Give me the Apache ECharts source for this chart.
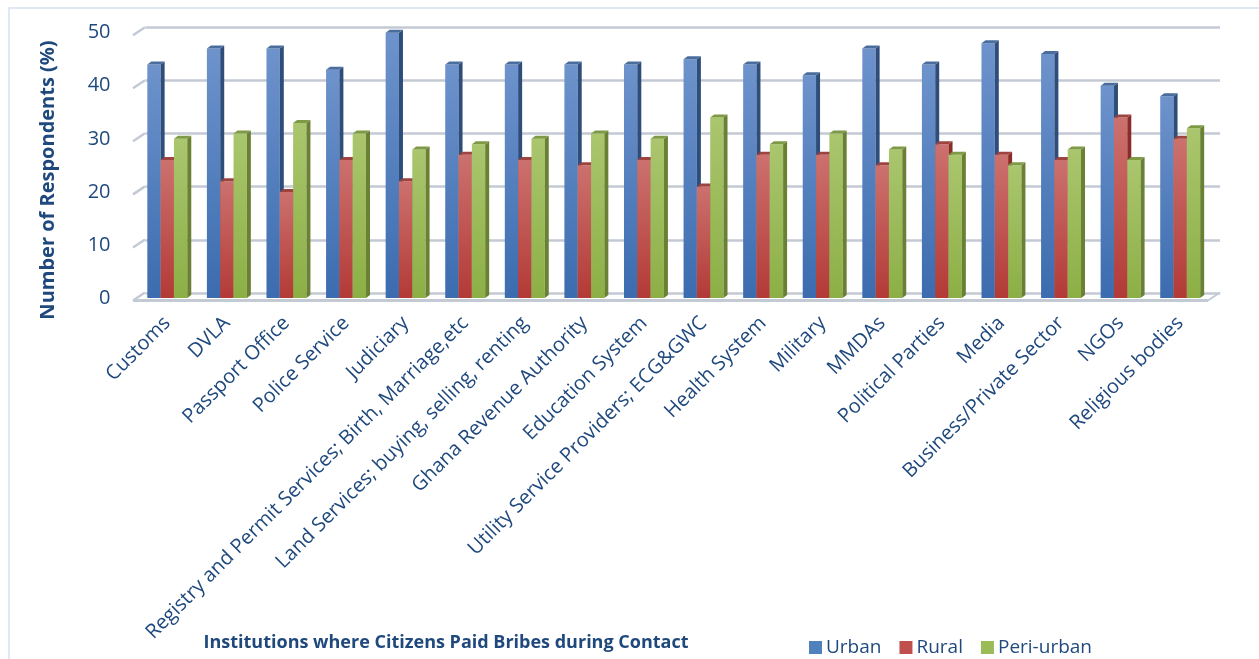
<!DOCTYPE html>
<html>
<head>
<meta charset="utf-8">
<script src="https://cdn.jsdelivr.net/npm/echarts@6/dist/echarts.min.js"></script>
<style>
  html, body { margin: 0; padding: 0; background: #fff; }
  #chart { width: 1259px; height: 659px; }
</style>
</head>
<body>
<div id="chart"></div>
<script>
// Institutions and the share of respondents (%) who paid bribes, by locality
const categories = [
  'Customs', 'DVLA', 'Passport Office', 'Police Service', 'Judiciary',
  'Registry and Permit Services; Birth, Marriage,etc',
  'Land Services; buying, selling, renting',
  'Ghana Revenue Authority', 'Education System',
  'Utility Service Providers; ECG&GWC', 'Health System', 'Military',
  'MMDAs', 'Political Parties', 'Media', 'Business/Private Sector',
  'NGOs', 'Religious bodies'
];
const urban     = [44, 47, 47, 43, 50, 44, 44, 44, 44, 45, 44, 42, 47, 44, 48, 46, 40, 38];
const rural     = [26, 22, 20, 26, 22, 27, 26, 25, 26, 21, 27, 27, 25, 29, 27, 26, 34, 30];
const periUrban = [30, 31, 33, 31, 28, 29, 30, 31, 30, 34, 29, 31, 28, 27, 25, 28, 26, 32];
const yTicks = [0, 10, 20, 30, 40, 50];
const seriesNames = ['Urban', 'Rural', 'Peri-urban'];

const FONT = '"Open Sans", "Noto Sans", sans-serif';
const TEXT = '#1F497D';

// face colours per series: front gradient (top, bottom), side, top
const palette = [
  { top: '#6E93CC', bottom: '#3B6CAF', side: '#2E4D7A', cap: '#4A6D9E', legend: '#4F81BD' },
  { top: '#CC716E', bottom: '#B33A36', side: '#8A2D2A', cap: '#9E4440', legend: '#C0504D' },
  { top: '#AAC66E', bottom: '#8CAF45', side: '#6A8134', cap: '#7E9A45', legend: '#9BBB59' }
];

const DX = 4, DY = -3;           // depth of each bar
const BAR_FRAC = 0.2235;          // bar width as a fraction of the category band

function barRenderer(s) {
  return function (params, api) {
    const idx = api.value(0), v = api.value(1);
    const base = api.coord([idx, 0]);
    const top = api.coord([idx, v]);
    const band = api.size([1, 0])[0];
    const w = band * BAR_FRAC;
    const x0 = base[0] - 1.5 * w + s * w;
    const x1 = x0 + w;
    const c = palette[s];
    return {
      type: 'group',
      children: [
        {
          type: 'rect',
          shape: { x: x0, y: top[1], width: w, height: base[1] - top[1] },
          style: {
            fill: new echarts.graphic.LinearGradient(0, 0, 0, 1, [
              { offset: 0, color: c.top }, { offset: 1, color: c.bottom }
            ])
          }
        },
        {
          type: 'polygon',
          shape: { points: [[x1, top[1]], [x1 + DX, top[1] + DY], [x1 + DX, base[1] + DY], [x1, base[1]]] },
          style: { fill: c.side }
        },
        {
          type: 'polygon',
          shape: { points: [[x0, top[1]], [x0 + DX, top[1] + DY], [x1 + DX, top[1] + DY], [x1, top[1]]] },
          style: { fill: c.cap }
        }
      ]
    };
  };
}

// left wall diagonals and front floor edge
function wallRenderer(params, api) {
  const v = api.value(1);
  const p = api.coord([0, v]);
  const cs = params.coordSys;
  const children = [{
    type: 'line',
    shape: { x1: cs.x - 4.5, y1: p[1] + 2.5, x2: cs.x + 7.5, y2: p[1] - 5.5 },
    style: { stroke: '#C3CAD4', lineWidth: 2.5 }
  }];
  if (v === 0) {
    children.push({
      type: 'line',
      shape: { x1: cs.x - 4.5, y1: p[1] + 2.5, x2: cs.x + cs.width - 2, y2: p[1] + 2.5 },
      style: { stroke: '#C3CAD4', lineWidth: 3 }
    });
    children.push({
      type: 'line',
      shape: { x1: cs.x + cs.width - 2, y1: p[1] + 2.5, x2: cs.x + cs.width + 10, y2: p[1] - 5.5 },
      style: { stroke: '#C3CAD4', lineWidth: 2 }
    });
  }
  return { type: 'group', children };
}

const dataOf = arr => arr.map((v, i) => [i, v]);
const valuesBySeries = [urban, rural, periUrban];

const chart = echarts.init(document.getElementById('chart'), null, { renderer: 'canvas' });

chart.setOption({
  backgroundColor: '#ffffff',
  animation: false,
  grid: [
    { left: 137.5, right: 49, top: 32.7, bottom: 361 },
    { left: 145.5, right: 39, top: 27, bottom: 366 }
  ],
  xAxis: [
    {
      gridIndex: 0, type: 'category', data: categories,
      axisLine: { show: false }, axisTick: { show: false },
      axisLabel: {
        interval: 0, rotate: 45, margin: 22,
        color: TEXT, fontFamily: FONT, fontSize: 20
      }
    },
    { gridIndex: 1, type: 'category', data: categories, show: false }
  ],
  yAxis: [
    {
      gridIndex: 0, type: 'value', min: 0, max: 50, interval: 10,
      axisLine: { show: false }, axisTick: { show: false },
      splitLine: { show: false },
      axisLabel: { margin: 27, color: TEXT, fontFamily: FONT, fontSize: 20 }
    },
    {
      gridIndex: 1, type: 'value', min: 0, max: 50, interval: 10,
      axisLine: { show: false }, axisTick: { show: false },
      axisLabel: { show: false },
      splitLine: { show: true, lineStyle: { color: '#C3CAD4', width: 2.5 } }
    }
  ],
  legend: {
    data: seriesNames,
    left: 804, top: 633,
    itemWidth: 13, itemHeight: 13, itemGap: 18,
    icon: 'rect',
    textStyle: { color: TEXT, fontFamily: FONT, fontSize: 19, padding: [0, 0, 0, -1] }
  },
  graphic: [
    {
      type: 'rect', silent: true, z: -10,
      shape: { x: 9, y: 8, width: 1260, height: 660 },
      style: { fill: 'none', stroke: '#D5E2F2', lineWidth: 1.5 }
    },
    {
      type: 'text', x: 48, y: 180, rotation: Math.PI / 2,
      style: {
        text: 'Number of Respondents (%)', fill: TEXT,
        font: 'bold 20px ' + FONT, align: 'center', verticalAlign: 'middle'
      }
    },
    {
      type: 'text', x: 446, y: 643,
      style: {
        text: 'Institutions where Citizens Paid Bribes during Contact', fill: TEXT,
        font: 'bold 18px ' + FONT, align: 'center', verticalAlign: 'middle'
      }
    }
  ],
  series: [
    {
      type: 'custom', name: '_wall', xAxisIndex: 0, yAxisIndex: 0, silent: true, z: 1,
      data: yTicks.map(v => [0, v]), renderItem: wallRenderer
    }
  ].concat(seriesNames.map((name, s) => ({
    type: 'custom', name, xAxisIndex: 0, yAxisIndex: 0, z: 2 + s,
    itemStyle: { color: palette[s].legend },
    encode: { x: 0, y: 1 },
    data: dataOf(valuesBySeries[s]),
    renderItem: barRenderer(s)
  })))
});
</script>
</body>
</html>
